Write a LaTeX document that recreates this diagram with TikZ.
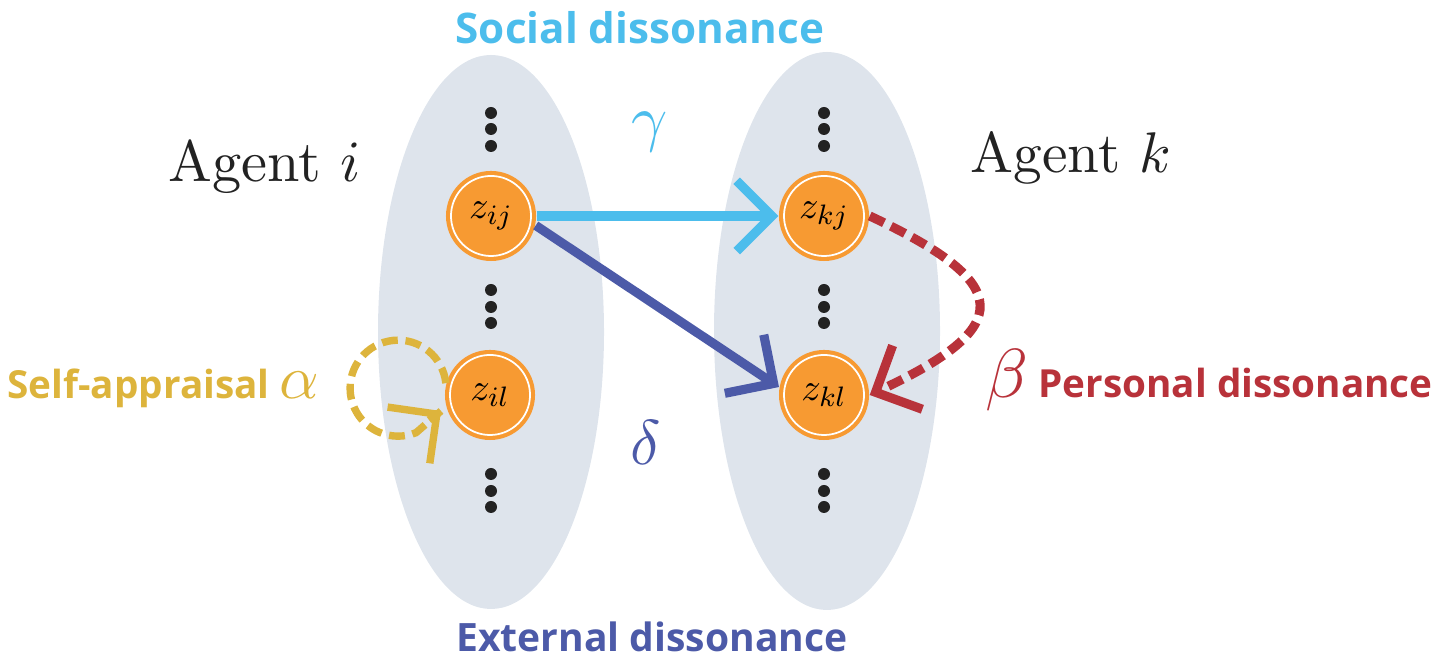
\documentclass[tikz,border=0pt]{standalone}
\usepackage{fontspec}
\setsansfont{Open Sans}
\usepackage{tikz}
\usetikzlibrary{arrows.meta,positioning}
\definecolor{skyblue}{HTML}{4CBDEC}
\definecolor{indigo}{HTML}{4C5AA8}
\definecolor{brick}{HTML}{B8323A}
\definecolor{mustard}{HTML}{DDB43C}
\definecolor{pumpkin}{HTML}{F79A32}
\definecolor{haze}{HTML}{DEE4EC}
\definecolor{ink}{HTML}{222222}

\tikzset{
  zvar/.style={circle,fill=pumpkin,minimum size=0.9cm,inner sep=0pt,
    font=\fontsize{11}{13}\selectfont,
    path picture={\draw[white,line width=0.5pt] (path picture bounding box.center) circle (0.4cm);}},
  tagtext/.style={inner sep=0pt,font=\sffamily\bfseries\fontsize{#1}{14}\selectfont},
  tagtext/.default=11,
  agent/.style={inner sep=0pt,text=ink,anchor=base west},
  barb/.style={-{Straight Barb[length=10pt,width=20pt]},line width=2.6pt},
  dashes/.style={dash pattern=on 4.5pt off 2.2pt}
}

\begin{document}
\begin{tikzpicture}[x=0.01cm,y=0.01cm]
  \useasboundingbox (0,0) rectangle (1437,662);
  % the two agents
  \fill[haze] (491,330) ellipse [x radius=113, y radius=277];
  \fill[haze] (827,331) ellipse [x radius=113, y radius=279];
  \foreach \cx in {491,824} {
    \foreach \cy in {549,533,516, 372,355,339, 188,171,155} {
      \fill[ink] (\cx,\cy) circle (6);
    }
  }
  \node[zvar] (zij) at (491,446) {$z_{ij}$};
  \node[zvar] (zil) at (490,267) {$z_{il}$};
  \node[zvar] (zkj) at (824,446) {$z_{kj}$};
  \node[zvar] (zkl) at (824,267) {$z_{kl}$};
  \node[agent] (agi) at (168,480) {\scalebox{1.66}{Agent $i$}};
  \node[agent] (agk) at (970,489) {\scalebox{1.63}{Agent $k$}};
  % dissonances
  \coordinate (selftip) at (441,251);
  \draw[skyblue,barb] (zij) -- (zkj);
  \draw[indigo,barb] (zij.-12) -- (zkl.170);
  \draw[brick,barb,dashes] (zkj.east) to[out=-25,in=25,looseness=2.3] (zkl.east);
  \draw[mustard,line width=2.1pt,dashes] (zil.165) arc[start angle=6,end angle=292,radius=48] -- (selftip);
  \draw[mustard,barb,line width=2.1pt] ([shift={(-12,-9)}]selftip) -- (selftip);
  \node[text=skyblue] (gam) at (650,530) {\scalebox{1.8}{$\gamma$}};
  \node[text=indigo] (del) at (646,219) {\scalebox{1.8}{$\delta$}};
  \node[tagtext=12,text=skyblue] (soc) at (640,634) {Social dissonance};
  \node[tagtext=11.1,text=indigo] (ext) at (652,25) {External dissonance};
  \node[tagtext,text=mustard,anchor=east] (self) at (320,274) {Self-appraisal \scalebox{1.6}{$\alpha$}};
  \node[tagtext,text=brick,anchor=west] (pers) at (985,282) {\scalebox{1.8}{$\beta$} Personal dissonance};
\end{tikzpicture}
\end{document}
